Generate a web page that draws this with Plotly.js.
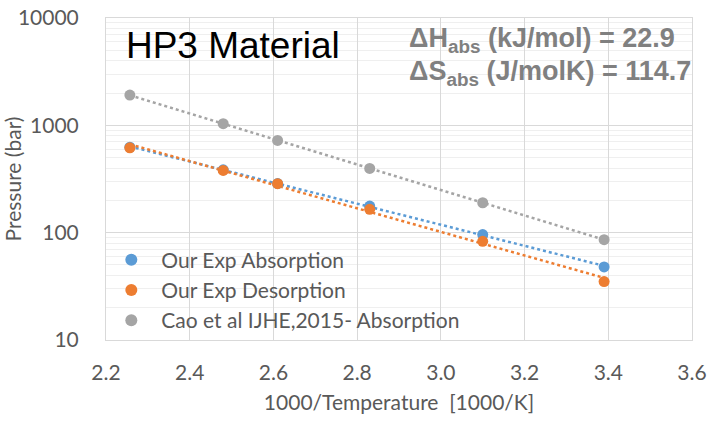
<!DOCTYPE html>
<html>
<head>
<meta charset="utf-8">
<script src="https://cdn.plot.ly/plotly-3.0.1.min.js"></script>
<style>html,body{margin:0;padding:0;background:#fff;}#chart{width:710px;height:421px;}</style>
</head>
<body>
<div id="chart"></div>
<script>
// Data
const invT = [2.257, 2.48, 2.61, 2.83, 3.10, 3.39];
const ourAbsorption = [625, 385, 287, 177, 96, 48];
const ourDesorption = [618, 380, 286, 165, 83, 35];
const caoAbsorption = [1916, 1035, 724, 397, 190, 86];
const seriesNames = ['Our Exp Absorption', 'Our Exp Desorption', 'Cao et al IJHE,2015- Absorption'];
const seriesColors = ['#5b9bd5', '#ed7d31', '#a5a5a5'];
const xTicks = [2.2, 2.4, 2.6, 2.8, 3.0, 3.2, 3.4, 3.6];
const yTicks = [10, 100, 1000, 10000];

// Exponential trendline (least squares on log10 y), evaluated from data
function expTrend(xs, ys) {
  const n = xs.length;
  const ly = ys.map(v => Math.log10(v));
  const mx = xs.reduce((a, b) => a + b, 0) / n;
  const my = ly.reduce((a, b) => a + b, 0) / n;
  let sxy = 0, sxx = 0;
  for (let i = 0; i < n; i++) { sxy += (xs[i] - mx) * (ly[i] - my); sxx += (xs[i] - mx) ** 2; }
  const b = sxy / sxx, a = my - b * mx;
  const xe = [Math.min(...xs), Math.max(...xs)];
  return { x: xe, y: xe.map(x => Math.pow(10, a + b * x)) };
}

const series = [ourAbsorption, ourDesorption, caoAbsorption];
const traces = [];
series.forEach((ys, i) => {
  const t = expTrend(invT, ys);
  traces.push({
    x: t.x, y: t.y, mode: 'lines', showlegend: false, hoverinfo: 'skip',
    line: { color: seriesColors[i], dash: 'dot', width: 2.5 }
  });
});
series.forEach((ys, i) => {
  traces.push({
    x: invT, y: ys, mode: 'markers', name: seriesNames[i],
    marker: { color: seriesColors[i], size: 11 }
  });
});

const fam = 'Lato, "Open Sans", sans-serif';
const tickFont = { family: fam, size: 21, color: '#595959' };

const layout = {
  width: 710, height: 421,
  margin: { l: 106, r: 18, t: 18, b: 81 },
  paper_bgcolor: '#ffffff', plot_bgcolor: '#ffffff',
  showlegend: true,
  title: {
    text: 'HP3 Material',
    font: { family: '"Liberation Sans", Arial, sans-serif', size: 37, color: '#000000' },
    xref: 'paper', x: 0.034, xanchor: 'left',
    yref: 'container', y: 1 - 45 / 421, yanchor: 'middle'
  },
  xaxis: {
    range: [2.2, 3.6], tickvals: xTicks, ticktext: xTicks.map(v => v.toFixed(1)),
    showgrid: true, gridcolor: '#d9d9d9', gridwidth: 1,
    showline: true, linecolor: '#d9d9d9', mirror: true, zeroline: false,
    ticks: '', ticklabelstandoff: 14, tickfont: tickFont,
    title: { text: '1000/Temperature &nbsp;[1000/K]', font: { family: fam, size: 21, color: '#595959' }, standoff: 12 }
  },
  yaxis: {
    type: 'log', range: [1, 4], tickvals: yTicks, ticktext: yTicks.map(String),
    showgrid: true, gridcolor: '#d9d9d9', gridwidth: 1,
    minor: { showgrid: true, gridcolor: '#efefef', dtick: 'D1', ticks: '' },
    showline: true, linecolor: '#d9d9d9', mirror: true, zeroline: false,
    ticks: '', ticklabelstandoff: 22, tickfont: tickFont,
    title: { text: 'Pressure (bar)', font: { family: fam, size: 21, color: '#595959' }, standoff: 4 }
  },
  legend: {
    x: -0.008, y: 0.312, xanchor: 'left', yanchor: 'top',
    bgcolor: 'rgba(0,0,0,0)', borderwidth: 0,
    font: { family: fam, size: 21, color: '#595959' },
    tracegroupgap: 0, itemsizing: 'constant', itemwidth: 50
  },
  annotations: [
    {
      text: '<b>ΔH<sub>abs</sub> (kJ/mol) = 22.9</b>', showarrow: false,
      xref: 'paper', yref: 'paper', xanchor: 'left', yanchor: 'middle',
      x: (407 - 106) / 586, y: 1 - (40 - 18) / 322,
      font: { family: '"Liberation Sans", Arial, sans-serif', size: 27, color: '#808080' }
    },
    {
      text: '<b>ΔS<sub>abs</sub> (J/molK) = 114.7</b>', showarrow: false,
      xref: 'paper', yref: 'paper', xanchor: 'left', yanchor: 'middle',
      x: (407 - 106) / 586, y: 1 - (73 - 18) / 322,
      font: { family: '"Liberation Sans", Arial, sans-serif', size: 27, color: '#808080' }
    }
  ]
};

Plotly.newPlot('chart', traces, layout, { displayModeBar: false, staticPlot: true });
</script>
</body>
</html>
